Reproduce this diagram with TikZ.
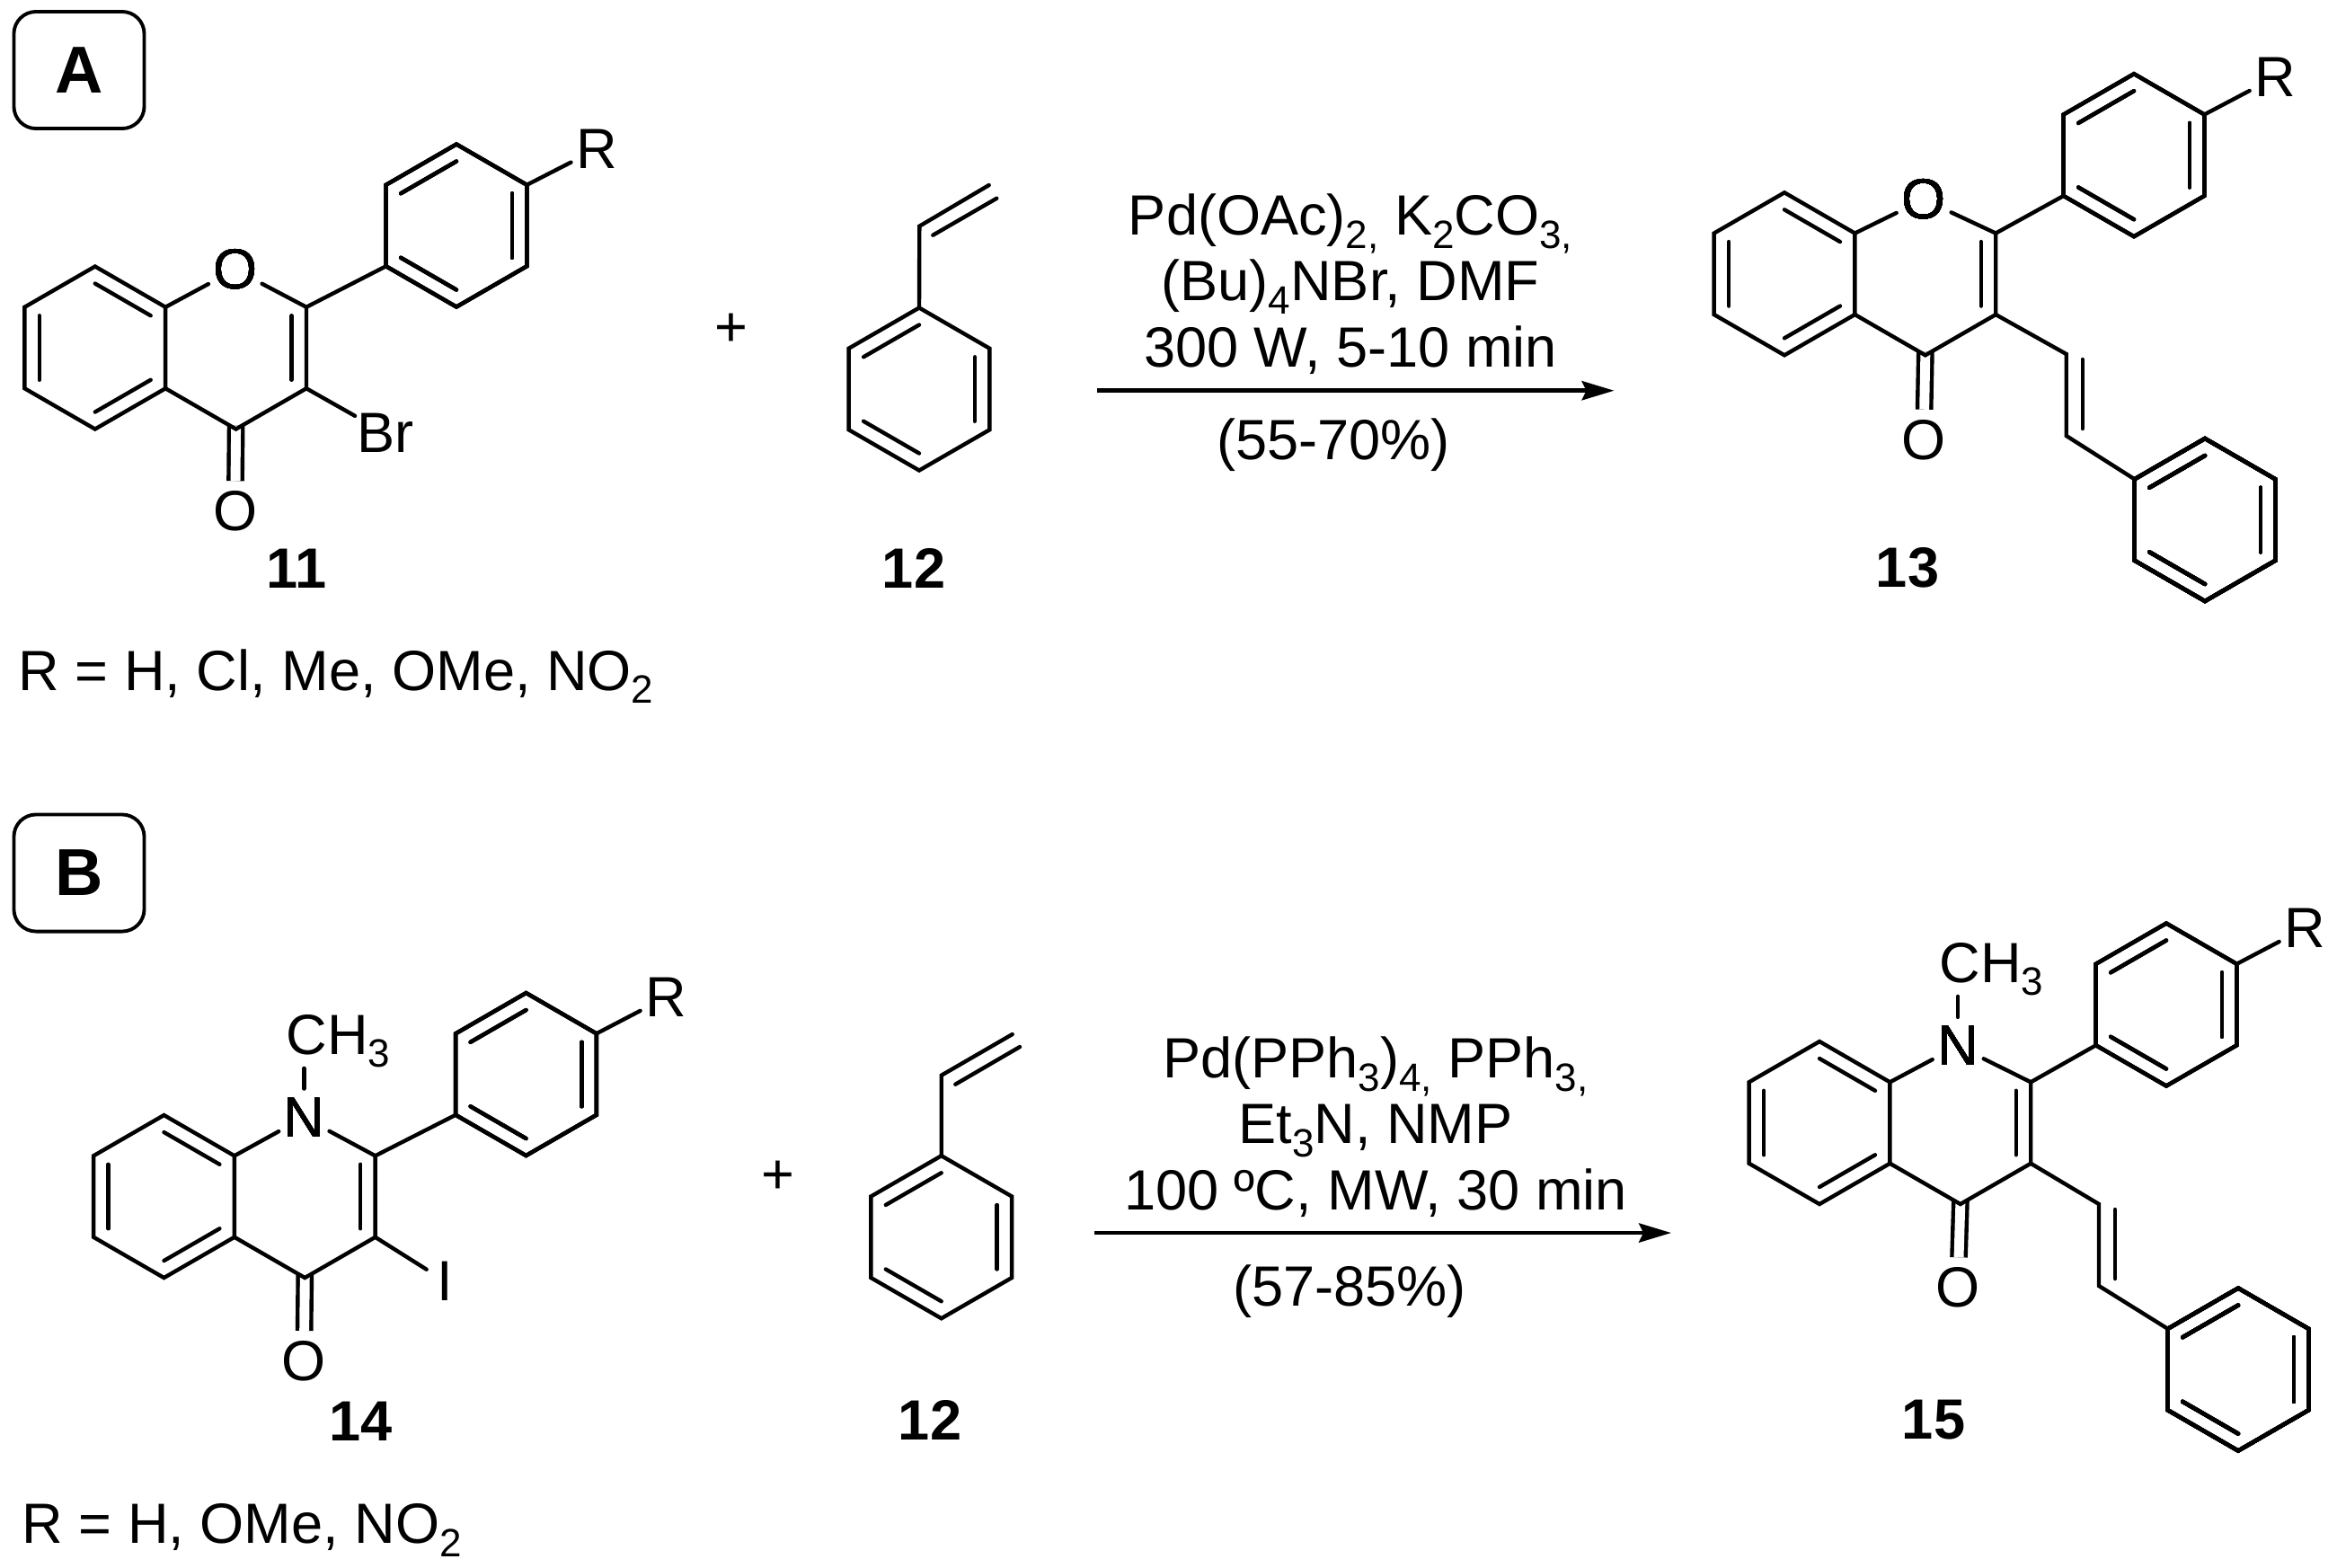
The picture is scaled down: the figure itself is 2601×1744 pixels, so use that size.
\documentclass[tikz,border=0pt]{standalone}
\usepackage{fontspec}
\setmainfont{Liberation Sans}
\usetikzlibrary{arrows.meta,calc}

\newcommand{\chemfont}{\fontsize{17.95}{20.8}\selectfont}
\newcommand{\lowsub}[1]{\raisebox{-4.2pt}{\fontsize{12.5}{12.5}\selectfont #1}}

\tikzset{
    bond/.style={line width=1.25pt, line cap=round, line join=miter},
    carbonyl/.style={line width=1.25pt, double, double distance=3.1pt, shorten <=-1.1pt},
    atom/.style={circle, inner sep=0pt, font=\chemfont},
    reagent/.style={align=center, inner sep=0pt, font=\chemfont},
    cmpd/.style={inner sep=0pt, font=\chemfont\bfseries},
    subst/.style={anchor=base west, inner sep=0pt, font=\chemfont},
    panel/.style={draw, line width=1.1pt, rectangle, rounded corners=7pt, minimum width=1.45cm, minimum height=1.3cm, inner sep=0pt, font=\fontsize{21}{21}\selectfont\bfseries},
    rxn/.style={line width=1.35pt, -{Stealth[length=10.2pt, width=6pt, inset=1.4pt]}}
}

\newcommand{\ringcoords}[3]{
    \coordinate (#1c) at (#2,#3);
    \foreach \k/\ang in {1/90,2/30,3/-30,4/-90,5/-150,6/150}
        \coordinate (#1\k) at ($(#2,#3)+(\ang:90.5)$);
}
\newcommand{\innerbond}[3]{\draw[bond] ($(#1c)!0.79!(#1#2)$) -- ($(#1c)!0.79!(#1#3)$);}
\newcommand{\aromring}[4]{
    \ringcoords{#1}{#2}{#3}
    \draw[bond] (#11) -- (#12) -- (#13) -- (#14) -- (#15) -- (#16) -- cycle;
    \foreach \p/\q in {#4} \innerbond{#1}{\p}{\q}
}

\begin{document}
\begin{tikzpicture}[x=0.01cm, y=0.01cm]
    \useasboundingbox (0,0) rectangle (2601,-1744);

    \node[panel] (panela) at (88,-78) {A};
    \node[panel] (panelb) at (88,-971.5) {\raisebox{-1.7pt}{B}};

    \aromring{ba}{105.8}{-387}{1/2,3/4,5/6}
    \ringcoords{pa}{262.6}{-387}
    \aromring{pha}{508}{-251}{6/1,2/3,4/5}
    \node[atom] (oa) at (261.7,-300) {O};
    \node[atom] (oca) at (261.7,-569) {O};
    \node[atom] (ra) at (664,-166) {R};
    \node[atom] (bra) at (429,-482) {Br};
    \draw[carbonyl] (pa4) -- (oca);
    \draw[bond] (pa6) -- (oa);
    \draw[bond] (oa) -- (pa2) -- (pa3) -- (pa4) -- (pa5);
    \innerbond{pa}{2}{3}
    \draw[bond] (pa2) -- (pha5);
    \draw[bond] (pha2) -- (ra);
    \draw[bond] (pa3) -- (bra);
    \node[cmpd] (lab11) at (330,-633) {11};
    \node[subst] (rsubsta) at (20,-768) {R = H, Cl, Me, OMe, NO\lowsub{2}};

    \node[atom] (plusa) at (814.3,-367) {+};
    \aromring{sa}{1023}{-433}{6/1,2/3,4/5}
    \coordinate (via) at (1023.3,-251.7);
    \coordinate (vib) at (1100.7,-206);
    \draw[bond] (sa1) -- (via) -- (vib);
    \draw[bond] ($(via)+(15,-10)$) -- ($(vib)+(8.6,-14.7)$);
    \node[cmpd] (lab12a) at (1017,-632) {12};

    \node[reagent] (conda) at (1503,-316) {Pd(OAc)\lowsub{2,} K\lowsub{2}CO\lowsub{3,}\\(Bu)\lowsub{4}NBr, DMF\\300 W, 5-10 min};
    \coordinate (arrowas) at (1221,-434.7);
    \coordinate (arrowae) at (1796.5,-434.7);
    \draw[rxn] (arrowas) -- (arrowae);
    \node[reagent] (yielda) at (1484,-495) {(55-70\%)};

    \aromring{bc}{1986}{-304.8}{1/2,3/4,5/6}
    \ringcoords{pc}{2142.8}{-304.8}
    \aromring{phc}{2375}{-172.7}{6/1,2/3,4/5}
    \aromring{stc}{2454}{-578.5}{6/1,2/3,4/5}
    \node[atom] (oc) at (2141,-222) {O};
    \node[atom] (occ) at (2141,-489.5) {O};
    \node[atom] (rc) at (2532,-86) {R};
    \coordinate (vic) at (2299.7,-394);
    \coordinate (vid) at (2299.7,-485);
    \draw[carbonyl] (pc4) -- (occ);
    \draw[bond] (pc6) -- (oc);
    \draw[bond] (oc) -- (pc2) -- (pc3) -- (pc4) -- (pc5);
    \innerbond{pc}{2}{3}
    \draw[bond] (pc2) -- (phc5);
    \draw[bond] (phc2) -- (rc);
    \draw[bond] (pc3) -- (vic) -- (vid) -- (stc6);
    \draw[bond] ($(vic)+(18,-6)$) -- ($(vid)+(18,8)$);
    \node[cmpd] (lab13) at (2123,-632) {13};

    \aromring{bd}{182.5}{-1331.5}{1/2,3/4,5/6}
    \ringcoords{pd}{339.3}{-1331.5}
    \aromring{phd}{585.5}{-1195.5}{6/1,2/3,4/5}
    \node[atom] (nd) at (338.3,-1243.6) {N};
    \node[atom] (ocd) at (338.3,-1514.7) {O};
    \node[atom] (rd) at (741,-1110) {R};
    \node[atom] (id) at (495,-1425.5) {I};
    \node[anchor=base west, inner sep=0pt, font=\chemfont] (med) at (318,-1173) {CH\lowsub{3}};
    \draw[carbonyl] (pd4) -- (ocd);
    \draw[bond] (nd) -- (nd |- med.south);
    \draw[bond] (pd6) -- (nd);
    \draw[bond] (nd) -- (pd2) -- (pd3) -- (pd4) -- (pd5);
    \innerbond{pd}{2}{3}
    \draw[bond] (pd2) -- (phd5);
    \draw[bond] (phd2) -- (rd);
    \draw[bond] (pd3) -- (id);
    \node[cmpd] (lab14) at (401.5,-1582) {14};
    \node[subst] (rsubstb) at (24,-1717.5) {R = H, OMe, NO\lowsub{2}};

    \node[atom] (plusb) at (866,-1310.5) {+};
    \aromring{se}{1047.7}{-1376.7}{6/1,2/3,4/5}
    \coordinate (vie) at (1047.7,-1196.7);
    \coordinate (vif) at (1126.7,-1151);
    \draw[bond] (se1) -- (vie) -- (vif);
    \draw[bond] ($(vie)+(15.6,-10)$) -- ($(vif)+(8.3,-14)$);
    \node[cmpd] (lab12b) at (1035,-1580) {12};

    \node[reagent] (condb) at (1531,-1254) {Pd(PPh\lowsub{3})\lowsub{4,} PPh\lowsub{3,}\\Et\lowsub{3}N, NMP\\100 ºC, MW, 30 min};
    \coordinate (arrowbs) at (1218,-1372);
    \coordinate (arrowbe) at (1860,-1372);
    \draw[rxn] (arrowbs) -- (arrowbe);
    \node[reagent] (yieldb) at (1502,-1437) {(57-85\%)};

    \aromring{bf}{2025}{-1249.5}{1/2,3/4,5/6}
    \ringcoords{pf}{2181.8}{-1249.5}
    \aromring{phf}{2411}{-1118}{6/1,2/3,4/5}
    \aromring{stf}{2491}{-1524}{6/1,2/3,4/5}
    \node[atom] (nf) at (2179,-1164) {N};
    \node[atom] (ocf) at (2179,-1433) {O};
    \node[atom] (rf) at (2565,-1033) {R};
    \node[anchor=base west, inner sep=0pt, font=\chemfont] (mef) at (2158,-1093) {CH\lowsub{3}};
    \coordinate (vig) at (2336,-1340);
    \coordinate (vih) at (2336,-1431);
    \draw[carbonyl] (pf4) -- (ocf);
    \draw[bond] (nf) -- (nf |- mef.south);
    \draw[bond] (pf6) -- (nf);
    \draw[bond] (nf) -- (pf2) -- (pf3) -- (pf4) -- (pf5);
    \innerbond{pf}{2}{3}
    \draw[bond] (pf2) -- (phf5);
    \draw[bond] (phf2) -- (rf);
    \draw[bond] (pf3) -- (vig) -- (vih) -- (stf6);
    \draw[bond] ($(vig)+(18,-6)$) -- ($(vih)+(18,8)$);
    \node[cmpd] (lab15) at (2152,-1580) {15};
\end{tikzpicture}
\end{document}
